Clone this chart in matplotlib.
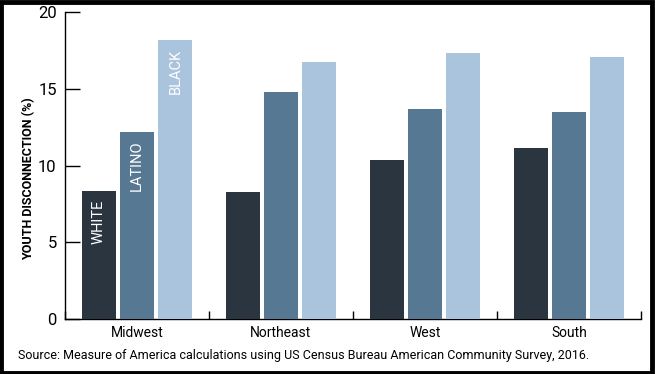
import numpy as np
import matplotlib.pyplot as plt
from matplotlib.patches import Rectangle

# Youth disconnection by region and race/ethnicity
regions = ['Midwest', 'Northeast', 'West', 'South']
groups = ['WHITE', 'LATINO', 'BLACK']
white = [8.35, 8.3, 10.37, 11.15]
latino = [12.2, 14.8, 13.7, 13.5]
black = [18.2, 16.76, 17.35, 17.09]
yticks = [0, 5, 10, 15, 20]

colors = ['#2b3540', '#577893', '#abc4dd']
source = 'Source: Measure of America calculations using US Census Bureau American Community Survey, 2016.'

plt.rcParams['font.family'] = ['Roboto', 'DejaVu Sans']

fig = plt.figure(figsize=(6.55, 3.74), dpi=100)
ax = fig.add_axes([0.0992, 0.147, 0.8794, 0.820])

x = np.arange(len(regions))
width = 0.236
step = 0.267
series = [white, latino, black]
for i, vals in enumerate(series):
    bars = ax.bar(x + (i - 1) * step, vals, width, color=colors[i], zorder=3)
    # label inside the Midwest bar
    b = bars[0]
    ax.text(b.get_x() + b.get_width() / 2, b.get_height() - 0.55, groups[i],
            rotation=90, ha='center', va='top', color='white', fontsize=10.5,
            zorder=4)

ax.set_xlim(-0.5, len(regions) - 0.5)
ax.set_ylim(0, 20)
ax.set_yticks(yticks)
ax.set_xticks(x)
ax.set_xticklabels(regions, fontsize=10)
ax.set_xticks(np.arange(len(regions) + 1) - 0.5, minor=True)

for s in ['top', 'right']:
    ax.spines[s].set_visible(False)
ax.spines['left'].set_linewidth(1.0)
ax.spines['bottom'].set_linewidth(1.0)

ax.tick_params(axis='y', direction='in', length=11, width=1.0, labelsize=12, pad=6)
ax.tick_params(axis='x', which='major', length=0, pad=5)
ax.tick_params(axis='x', which='minor', direction='in', length=6, width=1.0)

ax.set_ylabel('YOUTH DISCONNECTION (%)', fontsize=9, fontweight='bold')
ax.yaxis.set_label_coords(-0.052, 0.456)

fig.text(18 / 655, 1 - 356 / 374, source, fontsize=9, va='center', ha='left')

# frame around the figure
fig.patches.append(Rectangle((0.002, 0.004), 0.994, 0.99, transform=fig.transFigure,
                             fill=False, edgecolor='black', linewidth=3.5))

fig.savefig('out.png', dpi=100)
